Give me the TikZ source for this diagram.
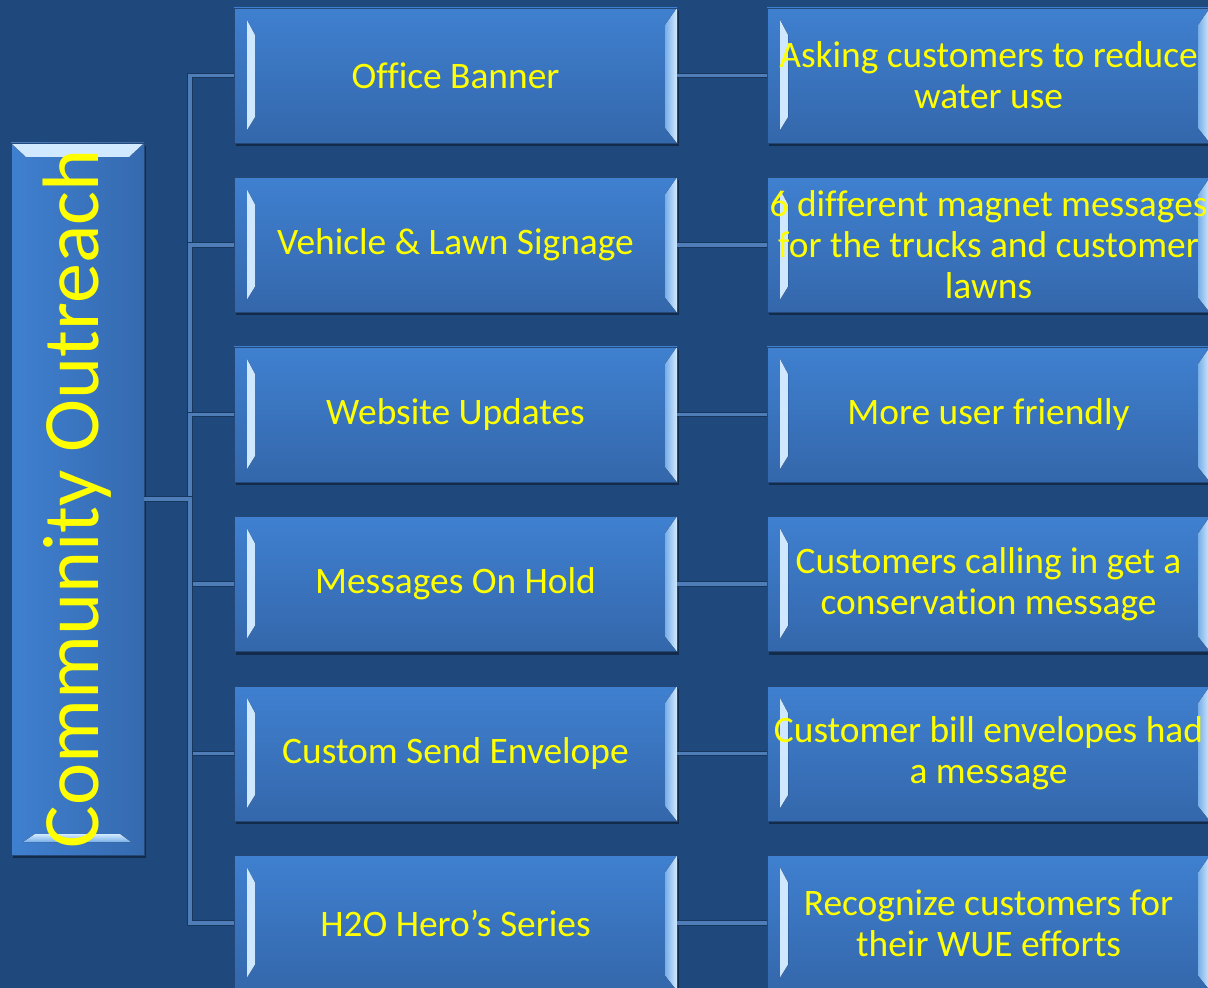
\documentclass[tikz,border=0pt]{standalone}
\usepackage{fontspec}
\setmainfont{Carlito}[Ligatures=NoCommon]
\usetikzlibrary{positioning, calc, shadows}

\definecolor{bgblue}{HTML}{1F497D}
\definecolor{boxtop}{HTML}{3F80D0}
\definecolor{boxbot}{HTML}{3467AB}
\definecolor{bevhi}{HTML}{D2EAFF}
\definecolor{bevlo}{HTML}{78AEE8}
\definecolor{linklight}{HTML}{4E7DB8}
\definecolor{linkdark}{HTML}{17375F}
\definecolor{txtyellow}{HTML}{FFFF00}

% light edges of a row box
\newcommand{\rowbevel}[1]{%
  \fill[bevl] ($(#1.north west)+(13,12)$) -- ($(#1.north west)+(21,27)$)
    -- ($(#1.south west)+(21,-26)$) -- ($(#1.south west)+(13,-13)$) -- cycle;
  \fill[bevr] ($(#1.north east)+(-12,17)$) -- (#1.north east)
    -- (#1.south east) -- ($(#1.south east)+(-12,-15)$) -- cycle;
}
% light edges of the upright title box
\newcommand{\titlebevel}[1]{%
  \fill[bevt] (#1.north west) -- (#1.north east) -- ($(#1.north east)+(-15,14)$)
    -- ($(#1.north west)+(15,14)$) -- cycle;
  \fill[bevt] ($(#1.south west)+(24,-21)$) -- ($(#1.south east)+(-24,-21)$)
    -- ($(#1.south east)+(-13,-13)$) -- ($(#1.south west)+(12,-13)$) -- cycle;
}

\tikzset{
  box/.style={rectangle, inner sep=0, outer sep=0, draw=boxbot!70!black, line width=0.4pt,
    text=txtyellow, align=center,
    drop shadow={shadow xshift=0.8pt, shadow yshift=-1.5pt, fill=black, opacity=0.4}},
  itembox/.style={box, top color=boxtop, bottom color=boxbot, minimum width=221.5pt,
    minimum height=67.5pt, font=\fontsize{18.7}{20.5}\selectfont,
    path picture={\rowbevel{path picture bounding box}}},
  titlebox/.style={box, left color=boxtop, right color=boxbot!90!boxtop, minimum width=66.5pt,
    minimum height=356pt, font=\fontsize{40}{44}\selectfont,
    path picture={\titlebevel{path picture bounding box}}},
  link/.style={draw=linkdark, double=linklight, double distance=1.7pt, line width=0.5pt},
  bevl/.style={left color=bevhi, right color=bevlo},
  bevr/.style={left color=bevlo, right color=bevhi},
  bevt/.style={top color=bevhi, bottom color=bevlo},
}

\begin{document}
\begin{tikzpicture}[x=0.5pt, y=-0.5pt]
  \useasboundingbox (0,0) rectangle (1208,988);
  \fill[bgblue] (0,0) rectangle (1208,988);

  \node[titlebox] (title) at (77.5,499) {\rotatebox{90}{Community Outreach}};

  \foreach \i/\itm/\dtl in {
      0/{Office Banner}/{Asking customers to reduce\\water use},
      1/{Vehicle \& Lawn Signage}/{6 different magnet messages\\for the trucks and customer\\lawns},
      2/{Website Updates}/{More user friendly},
      3/{Messages On Hold}/{Customers calling in get a\\conservation message},
      4/{Custom Send Envelope}/{Customer bill envelopes had\\a message},
      5/{H2O Hero’s Series}/{Recognize customers for\\their WUE efforts}}{
    \node[itembox] (m\i) at (455.5,{75.5+169.5*\i}) {\itm};
    \node[itembox, right=45pt of m\i] (d\i) {\dtl};
    \draw[link] (title.east) -- ++(46,0) |- (m\i.west);
    \draw[link] (m\i.east) -- (d\i.west);
  }
\end{tikzpicture}
\end{document}
